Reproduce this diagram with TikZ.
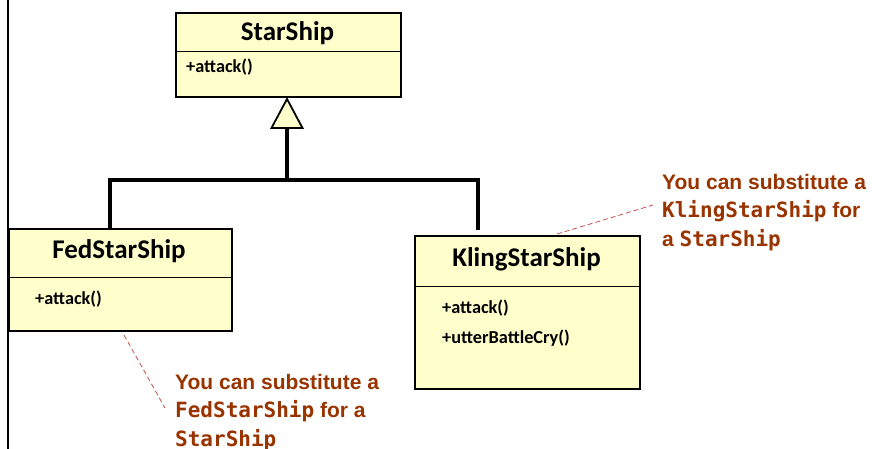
\documentclass[tikz,border=0pt]{standalone}
\usepackage{fontspec}
\setmainfont{Carlito}
\newfontfamily\notefont{Liberation Sans}
\newfontfamily\codefont{DejaVu Sans Mono}
\usetikzlibrary{arrows.meta}
\definecolor{classfill}{HTML}{FFFFCC}
\definecolor{notecolor}{HTML}{993300}
\definecolor{leadercolor}{HTML}{C8504B}
\begin{document}
\begin{tikzpicture}[x=1pt,y=-1pt,
  classbox/.style={draw=black,line width=2.2pt,fill=classfill,rectangle,anchor=north west,inner sep=0pt},
  classname/.style={font=\bfseries\fontsize{27}{30}\selectfont,inner sep=0pt},
  member/.style={font=\bfseries\fontsize{18.3}{21}\selectfont,anchor=west,inner sep=0pt},
  inherit/.style={line width=3.8pt,line cap=butt},
  leader/.style={draw=leadercolor,line width=0.8pt,dash pattern=on 5pt off 3pt},
  note/.style={text=notecolor,font=\notefont\bfseries\fontsize{21}{28.5}\selectfont,align=left,anchor=north west,inner sep=0pt}]
\useasboundingbox (0,0) rectangle (872,449);
% frame edge on the left
\draw[line width=2pt] (8,0) -- (8,449);

% StarShip
\node[classbox,minimum width=225pt,minimum height=84pt] (star) at (175,12) {};
\draw[line width=1pt] (175,52) -- (400,52);
\node[classname] (starname) at (287.5,33) {StarShip};
\node[member] (staratk) at (186,67) {+attack()};

% FedStarShip
\node[classbox,minimum width=223pt,minimum height=102pt] (fed) at (8,228) {};
\draw[line width=1pt] (8,277) -- (231,277);
\node[classname] (fedname) at (119,251) {FedStarShip};
\node[member] (fedatk) at (35,299) {+attack()};

% KlingStarShip
\node[classbox,minimum width=225pt,minimum height=153pt] (kling) at (414,235) {};
\draw[line width=1pt] (414,286) -- (639,286);
\node[classname] (klingname) at (526.5,259) {KlingStarShip};
\node[member] (klingatk) at (442,308) {+attack()};
\node[member] (klingcry) at (442,338) {+utterBattleCry()};

% generalization tree
\coordinate (join) at (287,180);
\coordinate (fedtop) at (110,228);
\coordinate (klingtop) at (478,230);
\draw[inherit] (fedtop) |- (join);
\draw[inherit] (klingtop) |- (join);
\draw[inherit] (join) -- (287,127);
\coordinate (apex) at (287,99);
\draw[line width=1.8pt,fill=classfill,line join=miter] (apex) -- (302.5,128) -- (271.5,128) -- cycle;

% notes
\node[note] (fednote) at (175,374) {You can substitute a\\{\codefont FedStarShip} for a\\{\codefont StarShip}};
\node[note] (klingnote) at (662,174) {You can substitute a\\{\codefont KlingStarShip} for\\a {\codefont StarShip}};
\coordinate (fedlead) at (124,335);
\coordinate (fedleadend) at (165,408);
\coordinate (klinglead) at (557,234);
\coordinate (klingleadend) at (653,205);
\draw[leader] (fedlead) -- (fedleadend);
\draw[leader] (klinglead) -- (klingleadend);
\end{tikzpicture}
\end{document}
